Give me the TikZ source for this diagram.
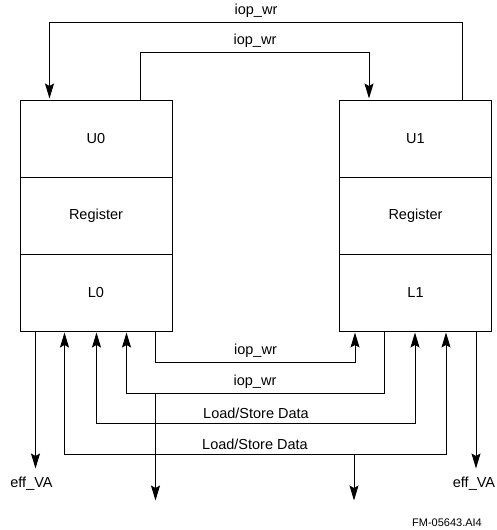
\documentclass[tikz,border=0pt]{standalone}
\usepackage{fontspec}
\setmainfont{Liberation Sans}
\usetikzlibrary{arrows.meta, positioning}

\begin{document}
\begin{tikzpicture}[->, >={Stealth[length=15pt, width=9pt, inset=2.5pt]}, shorten >=1pt, line width=1pt, node distance=77pt, font=\fontsize{14.5}{16}\selectfont, every node/.style={inner sep=0pt}, reg/.style={draw, minimum width=152pt, minimum height=77pt}, lbl/.style={above=4pt}]
	\useasboundingbox (0,0) rectangle (497pt,-530pt);
	\node[reg] (u0) at (96pt,-138.5pt) {U0};
	\node[reg] (reg0) [below of=u0] {Register};
	\node[reg] (l0) [below of=reg0] {L0};
	\node[reg] (u1) [right of=u0, xshift=242.5pt] {U1};
	\node[reg] (reg1) [below of=u1] {Register};
	\node[reg] (l1) [below of=reg1] {L1};
	
	\coordinate (tap0) at ([xshift=-17pt, yshift=-62pt]l0.south east);
	\coordinate (out0) at ([xshift=-17pt, yshift=-170pt]l0.south east);
	\coordinate (tap1) at ([xshift=15pt, yshift=-123pt]l1.south west);
	\coordinate (out1) at ([xshift=15pt, yshift=-170pt]l1.south west);
	\coordinate (va0end) at ([xshift=16pt, yshift=-138pt]l0.south west);
	\coordinate (va1end) at ([xshift=-16pt, yshift=-138pt]l1.south east);
	\node (va0) [below=7pt of va0end, xshift=-4pt] {eff\_VA};
	\node (va1) [below=7pt of va1end, xshift=-2pt] {eff\_VA};
	\node[font=\fontsize{11}{13}\selectfont] (fmno) at ([xshift=-45pt, yshift=-191pt]l1.south east) {FM-05643.AI4};
	
	\draw ([xshift=-30pt]u1.north east) |- ++(-206pt,77pt) node[lbl]{iop\_wr} -| ([xshift=30pt]u0.north west);
	\draw ([xshift=-32pt]u0.north east) |- ++(114.5pt,47pt) node[lbl]{iop\_wr} -| ([xshift=30pt]u1.north west);
	\draw ([xshift=-17pt]l0.south east) |- ++(100pt,-31pt) node[lbl]{iop\_wr} -| ([xshift=16pt]l1.south west);
	\draw ([xshift=45.5pt]l1.south west) |- ++(-129.5pt,-62pt) node[lbl]{iop\_wr} -| ([xshift=-46pt]l0.south east);
	\draw[<->, shorten <=1pt] ([xshift=-76pt]l0.south east) |- ++(159.5pt,-92pt) node[lbl]{Load/Store Data} -| ([xshift=76pt]l1.south west);
	\draw[<->, shorten <=1pt] ([xshift=45pt]l0.south west) |- ++(190.5pt,-123pt) node[lbl]{Load/Store Data} -| ([xshift=-46pt]l1.south east);
	\draw (tap0) -- (out0);
	\draw (tap1) -- (out1);
	\draw ([xshift=16pt]l0.south west) -- (va0end);
	\draw ([xshift=-16pt]l1.south east) -- (va1end);

\end{tikzpicture}
\end{document}
